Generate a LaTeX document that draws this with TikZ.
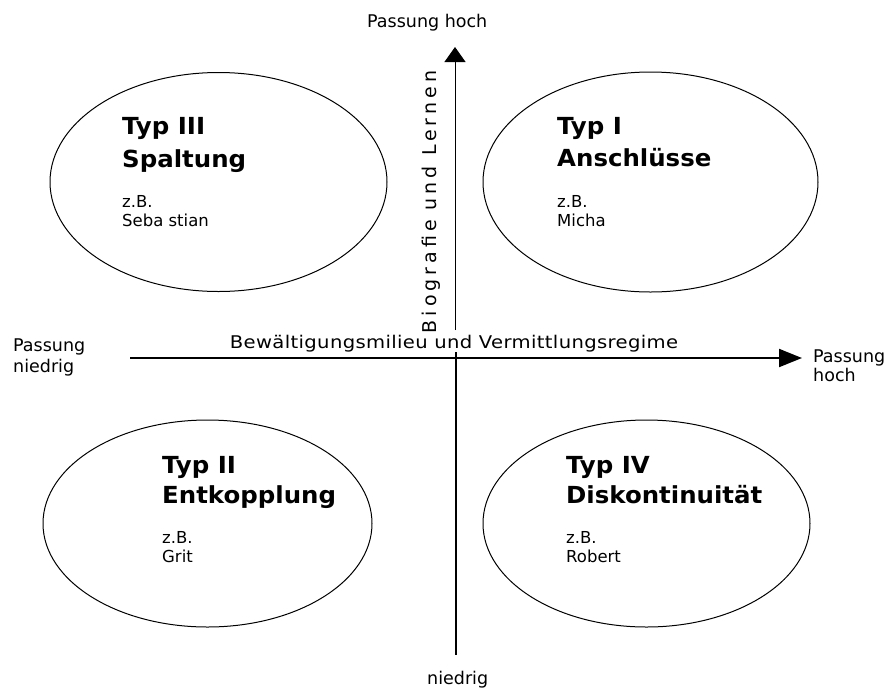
\documentclass[tikz,border=0pt]{standalone}
\usepackage{fontspec}
\setmainfont{DejaVu Sans}
\newfontfamily\labfont{DejaVu Sans}
\newfontfamily\hfont[FakeStretch=1.12,LetterSpace=2]{DejaVu Sans}
\newfontfamily\vfont[LetterSpace=21]{DejaVu Sans}
\newfontfamily\tfont[FakeStretch=1.04]{DejaVu Sans}
\newfontfamily\sfont{DejaVu Sans}
\usetikzlibrary{shapes.geometric,arrows.meta}
\tikzset{
  lab/.style={anchor=base west, inner sep=0pt, font=\labfont\fontsize{17.5}{20}\selectfont},
  ttl/.style={anchor=base west, inner sep=0pt, font=\tfont\bfseries\fontsize{23.5}{27}\selectfont},
  ex/.style={anchor=base west, inner sep=0pt, font=\sfont\fontsize{16.5}{19}\selectfont},
  quad/.style={ellipse, draw, line width=1pt, inner sep=0pt},
  axis/.style={line width=2pt},
}
\begin{document}
\begin{tikzpicture}[x=1pt,y=-1pt]
\useasboundingbox (0,0) rectangle (889,689);
% ellipses
\node[quad, minimum width=337pt, minimum height=219pt] (eTL) at (218.5,182) {};
\node[quad, minimum width=335pt, minimum height=220pt] (eTR) at (650.5,182) {};
\node[quad, minimum width=329pt, minimum height=207pt] (eBL) at (207.5,523.5) {};
\node[quad, minimum width=327pt, minimum height=207pt] (eBR) at (646.5,523.5) {};
% axes
\coordinate (hL) at (130,358);
\coordinate (hR) at (802,358);
\coordinate (vB) at (455,330);
\coordinate (vT) at (455,47);
\coordinate (lT) at (456,352);
\coordinate (lB) at (456,655);
\draw[axis, -{Triangle[length=23pt,width=18pt]}] (hL) -- (hR);
\draw[line width=1pt, -{Triangle[length=15pt,width=21pt]}] (vB) -- (vT);
\draw[axis] (lT) -- (lB);
% axis labels
\node[anchor=base, inner sep=0pt, font=\hfont\fontsize{17.5}{20}\selectfont] (hlab) at (454,348) {Bewältigungsmilieu und Vermittlungsregime};
\node[anchor=base, inner sep=0pt, rotate=90, font=\vfont\fontsize{19}{22}\selectfont] (vlab) at (436,202) {Biografie und Lernen};
\node[lab] (topA) at (367,27.7) {Passung hoch};
\node[lab] (rA) at (813,362) {Passung};
\node[lab] (rB) at (813,381) {hoch};
\node[lab] (lA) at (13,351) {Passung};
\node[lab] (lB2) at (13,372) {niedrig};
\node[lab] (botA) at (427,684) {niedrig};
% quadrant texts
\node[ttl] (t3a) at (122,134) {Typ III};
\node[ttl] (t3b) at (122,167) {Spaltung};
\node[ex] (t3c) at (122,207) {z.B.};
\node[ex] (t3d) at (122,226) {Seba stian};
\node[ttl] (t1a) at (557,134) {Typ I};
\node[ttl] (t1b) at (557,166) {Anschlüsse};
\node[ex] (t1c) at (557,207) {z.B.};
\node[ex] (t1d) at (557,226) {Micha};
\node[ttl] (t2a) at (162,473) {Typ II};
\node[ttl] (t2b) at (162,503) {Entkopplung};
\node[ex] (t2c) at (162,543) {z.B.};
\node[ex] (t2d) at (162,562) {Grit};
\node[ttl] (t4a) at (566,473) {Typ IV};
\node[ttl] (t4b) at (566,503) {Diskontinuität};
\node[ex] (t4c) at (566,543) {z.B.};
\node[ex] (t4d) at (566,562) {Robert};
\end{tikzpicture}
\end{document}
